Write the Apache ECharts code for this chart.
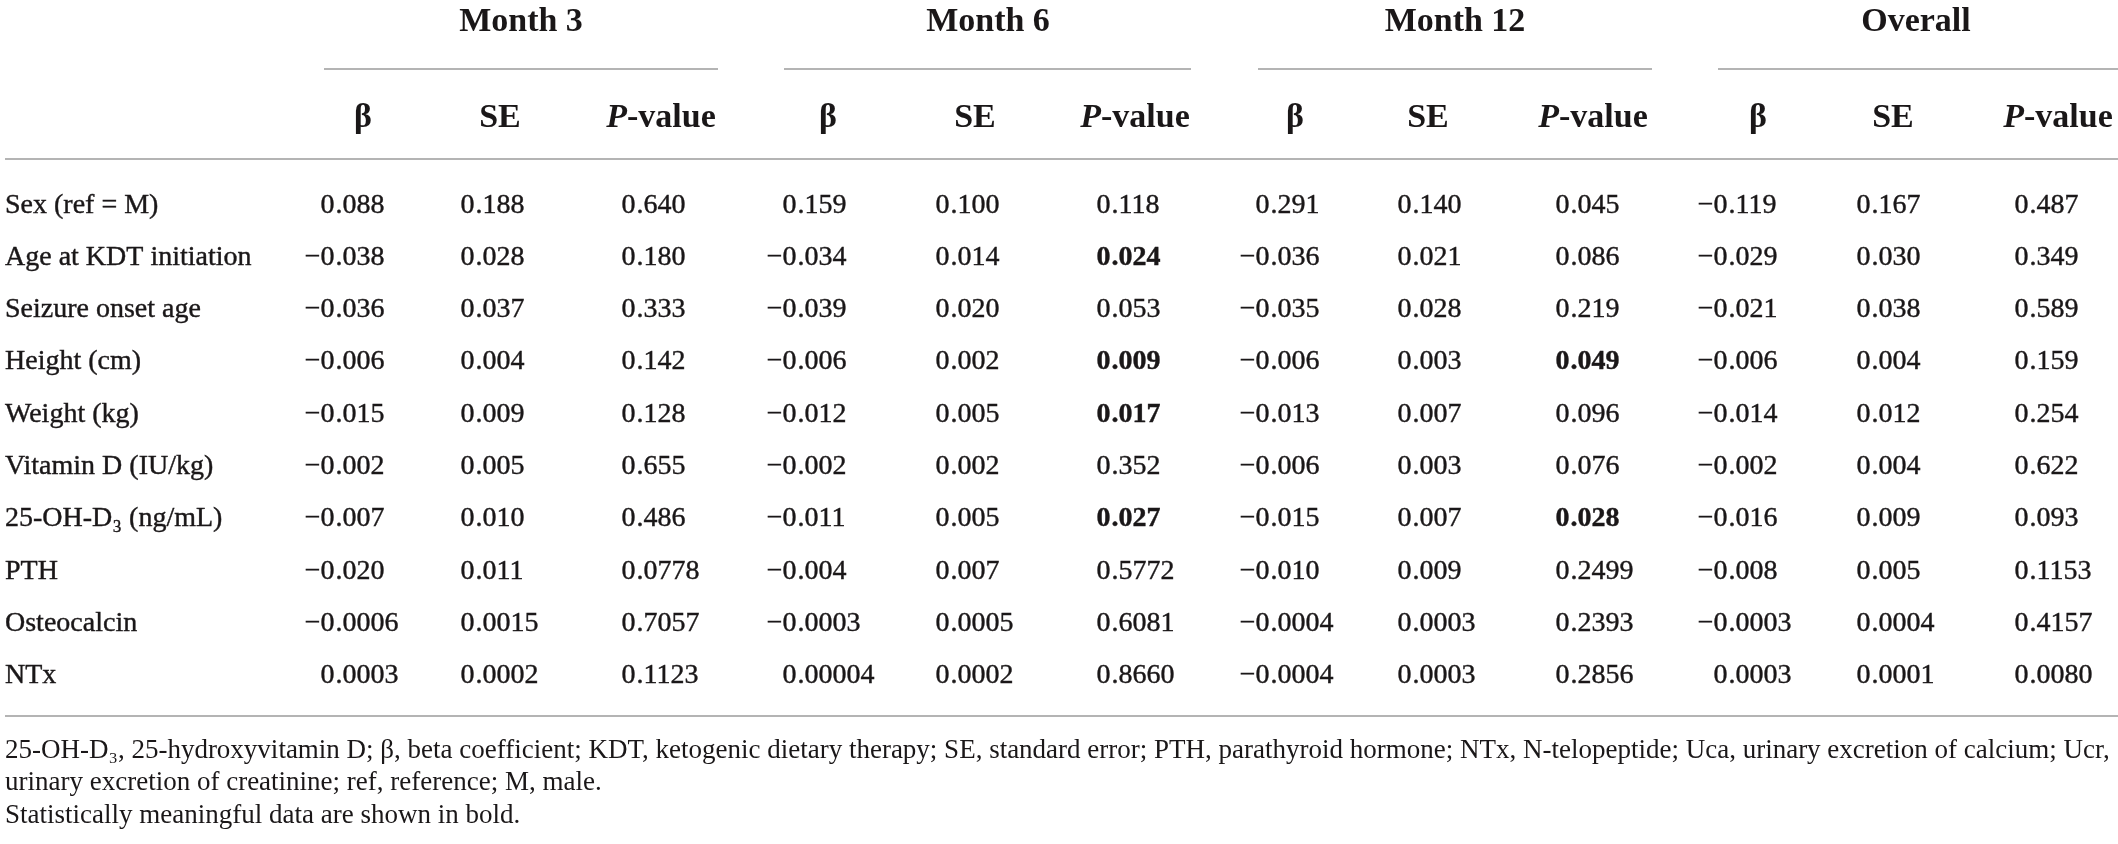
<!DOCTYPE html>
<html>
<head>
<meta charset="utf-8">
<script src="https://cdn.jsdelivr.net/npm/echarts@6/dist/echarts.min.js"></script>
<style>
html,body{margin:0;padding:0;background:#fff;}
#main{width:2118px;height:844px;}
</style>
</head>
<body>
<div id="main"></div>
<script>
/*行名称*/
var rowNames = ['Sex (ref = M)', 'Age at KDT initiation', 'Seizure onset age', 'Height (cm)', 'Weight (kg)',
	'Vitamin D (IU/kg)', '25-OH-D\u2083 (ng/mL)', 'PTH', 'Osteocalcin', 'NTx'];
/*分组表头*/
var groupNames = ['Month 3', 'Month 6', 'Month 12', 'Overall'];
var colNames = ['\u03b2', 'SE', '{i|P}-value'];
/*各列数值*/
var m3Beta = ['0.088', '-0.038', '-0.036', '-0.006', '-0.015', '-0.002', '-0.007', '-0.020', '-0.0006', '0.0003'];
var m3SE = ['0.188', '0.028', '0.037', '0.004', '0.009', '0.005', '0.010', '0.011', '0.0015', '0.0002'];
var m3P = ['0.640', '0.180', '0.333', '0.142', '0.128', '0.655', '0.486', '0.0778', '0.7057', '0.1123'];
var m6Beta = ['0.159', '-0.034', '-0.039', '-0.006', '-0.012', '-0.002', '-0.011', '-0.004', '-0.0003', '0.00004'];
var m6SE = ['0.100', '0.014', '0.020', '0.002', '0.005', '0.002', '0.005', '0.007', '0.0005', '0.0002'];
var m6P = ['0.118', '0.024', '0.053', '0.009', '0.017', '0.352', '0.027', '0.5772', '0.6081', '0.8660'];
var m12Beta = ['0.291', '-0.036', '-0.035', '-0.006', '-0.013', '-0.006', '-0.015', '-0.010', '-0.0004', '-0.0004'];
var m12SE = ['0.140', '0.021', '0.028', '0.003', '0.007', '0.003', '0.007', '0.009', '0.0003', '0.0003'];
var m12P = ['0.045', '0.086', '0.219', '0.049', '0.096', '0.076', '0.028', '0.2499', '0.2393', '0.2856'];
var allBeta = ['-0.119', '-0.029', '-0.021', '-0.006', '-0.014', '-0.002', '-0.016', '-0.008', '-0.0003', '0.0003'];
var allSE = ['0.167', '0.030', '0.038', '0.004', '0.012', '0.004', '0.009', '0.005', '0.0004', '0.0001'];
var allP = ['0.487', '0.349', '0.589', '0.159', '0.254', '0.622', '0.093', '0.1153', '0.4157', '0.0080'];
/*加粗单元格 [行, 列]*/
var boldCells = [[1, 5], [3, 5], [4, 5], [6, 5], [3, 8], [6, 8]];
/*脚注*/
var footNotes = [
	'25-OH-D\u2083, 25-hydroxyvitamin D; \u03b2, beta coefficient; KDT, ketogenic dietary therapy; SE, standard error; PTH, parathyroid hormone; NTx, N-telopeptide; Uca, urinary excretion of calcium; Ucr,',
	'urinary excretion of creatinine; ref, reference; M, male.',
	'Statistically meaningful data are shown in bold.'
];

var columns = [m3Beta, m3SE, m3P, m6Beta, m6SE, m6P, m12Beta, m12SE, m12P, allBeta, allSE, allP];

/*版式参数*/
var FONT = '"Liberation Serif", "DejaVu Serif", serif';
var INK = '#1a1718';
var RULE = '#b4b4b4';
var decimalX = [335, 475, 636, 797, 950, 1111, 1270, 1412, 1570, 1728, 1871, 2029];
var headX = [363, 500, 661, 828, 975, 1135, 1295, 1428, 1593, 1758, 1893, 2058];
var groupX = [521, 988, 1455, 1916];
var groupLine = [[324, 718], [784, 1191], [1258, 1652], [1718, 2118]];

/*构造单元格数据: 整数部分右对齐、小数部分左对齐, 以小数点对齐*/
var isBold = function (r, c) {
	for (var k = 0; k < boldCells.length; k++) {
		if (boldCells[k][0] == r && boldCells[k][1] == c) return true;
	}
	return false;
};
var intData = [], fracData = [];
for (var c = 0; c < columns.length; c++) {
	for (var r = 0; r < rowNames.length; r++) {
		var s = columns[c][r].replace('-', '\u2212');
		var p = s.indexOf('.');
		var w = isBold(r, c) ? 'bold' : 'normal';
		intData.push({ value: [decimalX[c], r], txt: s.substring(0, p), label: { fontWeight: w } });
		fracData.push({ value: [decimalX[c], r], txt: s.substring(p), label: { fontWeight: w } });
	}
}
var cellSeries = function (data, pos) {
	return {
		type: 'scatter',
		data: data,
		symbolSize: 1,
		itemStyle: { color: 'rgba(0,0,0,0)' },
		silent: true,
		label: {
			show: true,
			position: pos,
			distance: 0,
			color: INK,
			opacity: 1,
			fontFamily: FONT,
			fontSize: 28,
			textBorderColor: INK,
			textBorderWidth: 0.4,
			formatter: function (p) {
				return p.data.txt;
			}
		}
	};
};

/*表头、横线与脚注*/
var graphics = [];
for (var g = 0; g < groupNames.length; g++) {
	graphics.push({
		type: 'text', x: groupX[g], y: 22,
		style: { text: groupNames[g], fontFamily: FONT, fontSize: 34, fontWeight: 'bold', fill: INK, align: 'center', verticalAlign: 'middle' }
	});
	graphics.push({
		type: 'line', shape: { x1: groupLine[g][0], y1: 69, x2: groupLine[g][1], y2: 69 },
		style: { stroke: RULE, lineWidth: 2 }
	});
}
for (var h = 0; h < headX.length; h++) {
	graphics.push({
		type: 'text', x: headX[h], y: 118,
		style: {
			text: colNames[h % 3], fontFamily: FONT, fontSize: 34, fontWeight: 'bold', fill: INK,
			align: 'center', verticalAlign: 'middle',
			rich: { i: { fontFamily: FONT, fontSize: 34, fontWeight: 'bold', fontStyle: 'italic', fill: INK } }
		}
	});
}
graphics.push({ type: 'line', shape: { x1: 5, y1: 159, x2: 2118, y2: 159 }, style: { stroke: RULE, lineWidth: 2 } });
graphics.push({ type: 'line', shape: { x1: 5, y1: 716, x2: 2118, y2: 716 }, style: { stroke: RULE, lineWidth: 2 } });
var noteY = [751, 783, 816];
for (var f = 0; f < footNotes.length; f++) {
	graphics.push({
		type: 'text', x: 5, y: noteY[f],
		style: { text: footNotes[f], fontFamily: FONT, fontSize: 27, fill: INK, align: 'left', verticalAlign: 'middle' }
	});
}

var chart = echarts.init(document.getElementById('main'));
chart.setOption({
	animation: false,
	backgroundColor: '#fff',
	grid: { left: 0, right: 0, top: 179, height: 523 },
	xAxis: { type: 'value', min: 0, max: 2118, show: false },
	yAxis: {
		type: 'category',
		data: rowNames,
		inverse: true,
		axisLine: { show: false },
		axisTick: { show: false },
		splitLine: { show: false },
		axisLabel: {
			inside: true, margin: 5, fontFamily: FONT, fontSize: 28, color: INK,
			textBorderColor: INK, textBorderWidth: 0.4
		}
	},
	series: [cellSeries(intData, 'left'), cellSeries(fracData, 'right')],
	graphic: graphics
});
</script>
</body>
</html>
